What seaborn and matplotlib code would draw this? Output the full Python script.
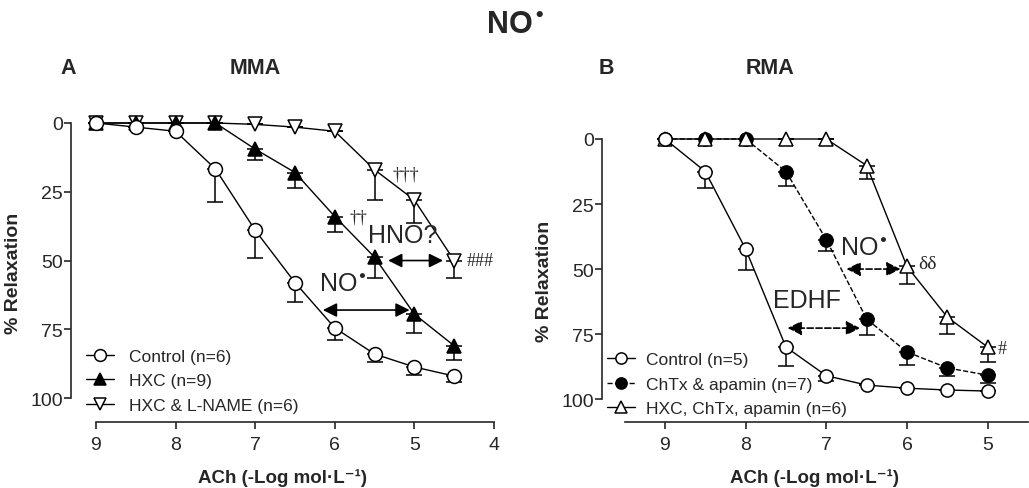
import matplotlib
matplotlib.use('Agg')
import matplotlib.pyplot as plt
import numpy as np
import pandas as pd
import seaborn as sns

# concentrations (-log mol/L)
DOSE_A = [9, 8.5, 8, 7.5, 7, 6.5, 6, 5.5, 5, 4.5]
DOSE_B = [9, 8.5, 8, 7.5, 7, 6.5, 6, 5.5, 5]

# panel A (MMA): mean % relaxation and one-sided SEM
A_CONTROL = [0, 1.5, 3, 16.7, 39, 58, 74.5, 84, 88.7, 92]
A_CONTROL_ERR = [0, 0, 0, 12, 10, 7, 4.5, 3, 3, 2]
A_HXC = [0, 0, 0, 0, 9.5, 18, 34, 48.8, 69.5, 81]
A_HXC_ERR = [0, 0, 0, 0, 4, 5.6, 5.7, 7.6, 6.9, 5]
A_LNAME = [0, 0, 0, 0, 0.5, 1.5, 3, 17, 28, 50]
A_LNAME_ERR = [0, 0, 0, 0, 0, 0, 0, 11, 8.4, 6.4]

# panel B (RMA)
B_CONTROL = [0, 12.5, 42.3, 80, 91, 94.6, 95.8, 96.5, 96.9]
B_CONTROL_ERR = [0, 6.5, 8, 7.3, 2, 0, 0, 0, 0]
B_CHTX = [0, 0, 0, 12.5, 38.7, 69.2, 81.9, 88, 90.8]
B_CHTX_ERR = [0, 0, 0, 5.5, 4.3, 6.2, 5.1, 3, 3]
B_HXC = [0, 0, 0, 0, 0, 10.2, 49, 68.5, 80]
B_HXC_ERR = [0, 0, 0, 0, 0, 5.2, 6.7, 6.5, 5.6]

SANS = ['Liberation Sans', 'DejaVu Sans']
SERIF = ['Liberation Serif', 'DejaVu Serif']


def draw_series(ax, x, y, err, label, marker, filled, ls='-', ms=9.5):
    df = pd.DataFrame({'dose': x, 'relax': y})
    face = 'black' if filled else 'white'
    ax.errorbar(x, y, yerr=[np.zeros(len(err)), err], fmt='none', ecolor='black',
                elinewidth=1.1, capsize=6, capthick=1.1, clip_on=False, zorder=2)
    sns.lineplot(data=df, x='dose', y='relax', ax=ax, color='black', lw=1.0, linestyle=ls,
                 marker=marker, markersize=ms, markerfacecolor=face, markeredgecolor='black',
                 markeredgewidth=1.1, label=label, clip_on=False, zorder=3, estimator=None, sort=False)


def setup_axis(ax, xlim, xbounds, xmajor, ylim_bottom):
    ax.set_xlim(*xlim)
    ax.set_ylim(ylim_bottom, 0)
    ax.spines['top'].set_visible(False)
    ax.spines['right'].set_visible(False)
    ax.spines['left'].set_bounds(0, 100)
    ax.spines['bottom'].set_bounds(*xbounds)
    ax.spines['left'].set_linewidth(1.2)
    ax.spines['bottom'].set_linewidth(1.2)
    ax.set_yticks([0, 25, 50, 75, 100])
    ax.set_xticks(xmajor)
    ax.set_xticks(np.arange(xbounds[1], xbounds[0] - 0.01, -0.5), minor=True)
    ax.tick_params(axis='both', which='both', direction='out', length=5, width=1.2,
                   labelsize=14, pad=1)
    ax.tick_params(axis='x', pad=5)
    for lab in ax.get_xticklabels() + ax.get_yticklabels():
        lab.set_family(SANS)
    ax.set_ylabel('% Relaxation', fontsize=14, weight='bold', family=SANS, labelpad=6)
    ax.set_xlabel('ACh (-Log mol\u00b7L\u207b\u00b9)', fontsize=13.5, weight='bold',
                  family=SANS, labelpad=11)
    ax.grid(False)


def double_arrow(ax, x1, x2, y, dashed=False):
    ax.annotate('', xy=(x2, y), xytext=(x1, y),
                arrowprops=dict(arrowstyle='<|-|>', color='black', lw=1.2,
                                linestyle='--' if dashed else '-',
                                mutation_scale=21, shrinkA=0, shrinkB=0))


def main():
    sns.set_style('ticks')
    plt.rcParams['font.family'] = SANS

    fig = plt.figure(figsize=(10.29, 4.89), dpi=100)
    W, H = 1029, 489
    # axes placed by pixel box (left, top, right, bottom)
    axA = fig.add_axes([71 / W, 1 - 423 / H, (494 - 71) / W, (423 - 124) / H])
    axB = fig.add_axes([602 / W, 1 - 423 / H, (1028 - 602) / W, (423 - 140) / H])

    leg_kw = dict(loc='lower left', frameon=False, fontsize=12.5, handlelength=1.6,
                  handletextpad=0.9, labelspacing=0.55, borderaxespad=0, borderpad=0,
                  markerscale=0.85)

    # panel A
    draw_series(axA, DOSE_A, A_LNAME, A_LNAME_ERR, 'HXC & L-NAME (n=6)', 'v', False)
    draw_series(axA, DOSE_A, A_HXC, A_HXC_ERR, 'HXC (n=9)', '^', True)
    draw_series(axA, DOSE_A, A_CONTROL, A_CONTROL_ERR, 'Control (n=6)', 'o', False, ms=10)
    setup_axis(axA, (9.314, 4.0), (9, 4), [9, 8, 7, 6, 5, 4], 108.7)

    h, l = axA.get_legend_handles_labels()
    axA.legend(h[::-1], l[::-1], bbox_to_anchor=(0.035, 0.03), **leg_kw)

    double_arrow(axA, 6.15, 5.06, 68)
    axA.text(5.9, 63, r'NO$^{\bullet}$', fontsize=18, ha='center', va='bottom')
    double_arrow(axA, 5.33, 4.64, 50)
    axA.text(5.15, 45, 'HNO?', fontsize=18, ha='center', va='bottom')
    axA.text(5.28, 18.5, '\u2020\u2020\u2020', fontsize=13, family=SERIF, ha='left', va='center')
    axA.text(5.82, 34, '\u2020\u2020', fontsize=13, family=SERIF, ha='left', va='center')
    axA.text(4.34, 50, '###', fontsize=13, family=SERIF, ha='left', va='center')

    # panel B
    draw_series(axB, DOSE_B, B_CHTX, B_CHTX_ERR, 'ChTx & apamin (n=7)', 'o', True, ls='--')
    draw_series(axB, DOSE_B, B_HXC, B_HXC_ERR, 'HXC, ChTx, apamin (n=6)', '^', False)
    draw_series(axB, DOSE_B, B_CONTROL, B_CONTROL_ERR, 'Control (n=5)', 'o', False)
    setup_axis(axB, (9.78, 4.5), (9.5, 4.5), [9, 8, 7, 6, 5], 108.8)

    h, l = axB.get_legend_handles_labels()
    order = [2, 0, 1]
    leg_kw['handletextpad'] = 0.65
    axB.legend([h[i] for i in order], [l[i] for i in order],
               bbox_to_anchor=(0.012, 0.02), **leg_kw)

    double_arrow(axB, 6.75, 6.08, 50, dashed=True)
    axB.text(6.54, 46.5, r'NO$^{\bullet}$', fontsize=18, ha='center', va='bottom')
    double_arrow(axB, 7.48, 6.58, 72.7, dashed=True)
    axB.text(7.24, 62, 'EDHF', fontsize=18, ha='center', va='center')
    axB.text(5.86, 48, '\u03b4\u03b4', fontsize=14, family=SERIF, ha='left', va='center')
    axB.text(4.88, 80.5, '#', fontsize=13, family=SERIF, ha='left', va='center')

    # titles
    fig.text(515 / W, 1 - 25 / H, r'NO$^{\bullet}$', fontsize=22, weight='bold',
             ha='center', va='center')
    fig.text(68 / W, 1 - 68 / H, 'A', fontsize=15.5, weight='bold', ha='center', va='center')
    fig.text(255 / W, 1 - 68 / H, 'MMA', fontsize=15.5, weight='bold', ha='center', va='center')
    fig.text(606 / W, 1 - 68 / H, 'B', fontsize=15.5, weight='bold', ha='center', va='center')
    fig.text(770 / W, 1 - 68 / H, 'RMA', fontsize=15.5, weight='bold', ha='center', va='center')

    fig.savefig('out.png', dpi=100)


if __name__ == "__main__":
    main()
